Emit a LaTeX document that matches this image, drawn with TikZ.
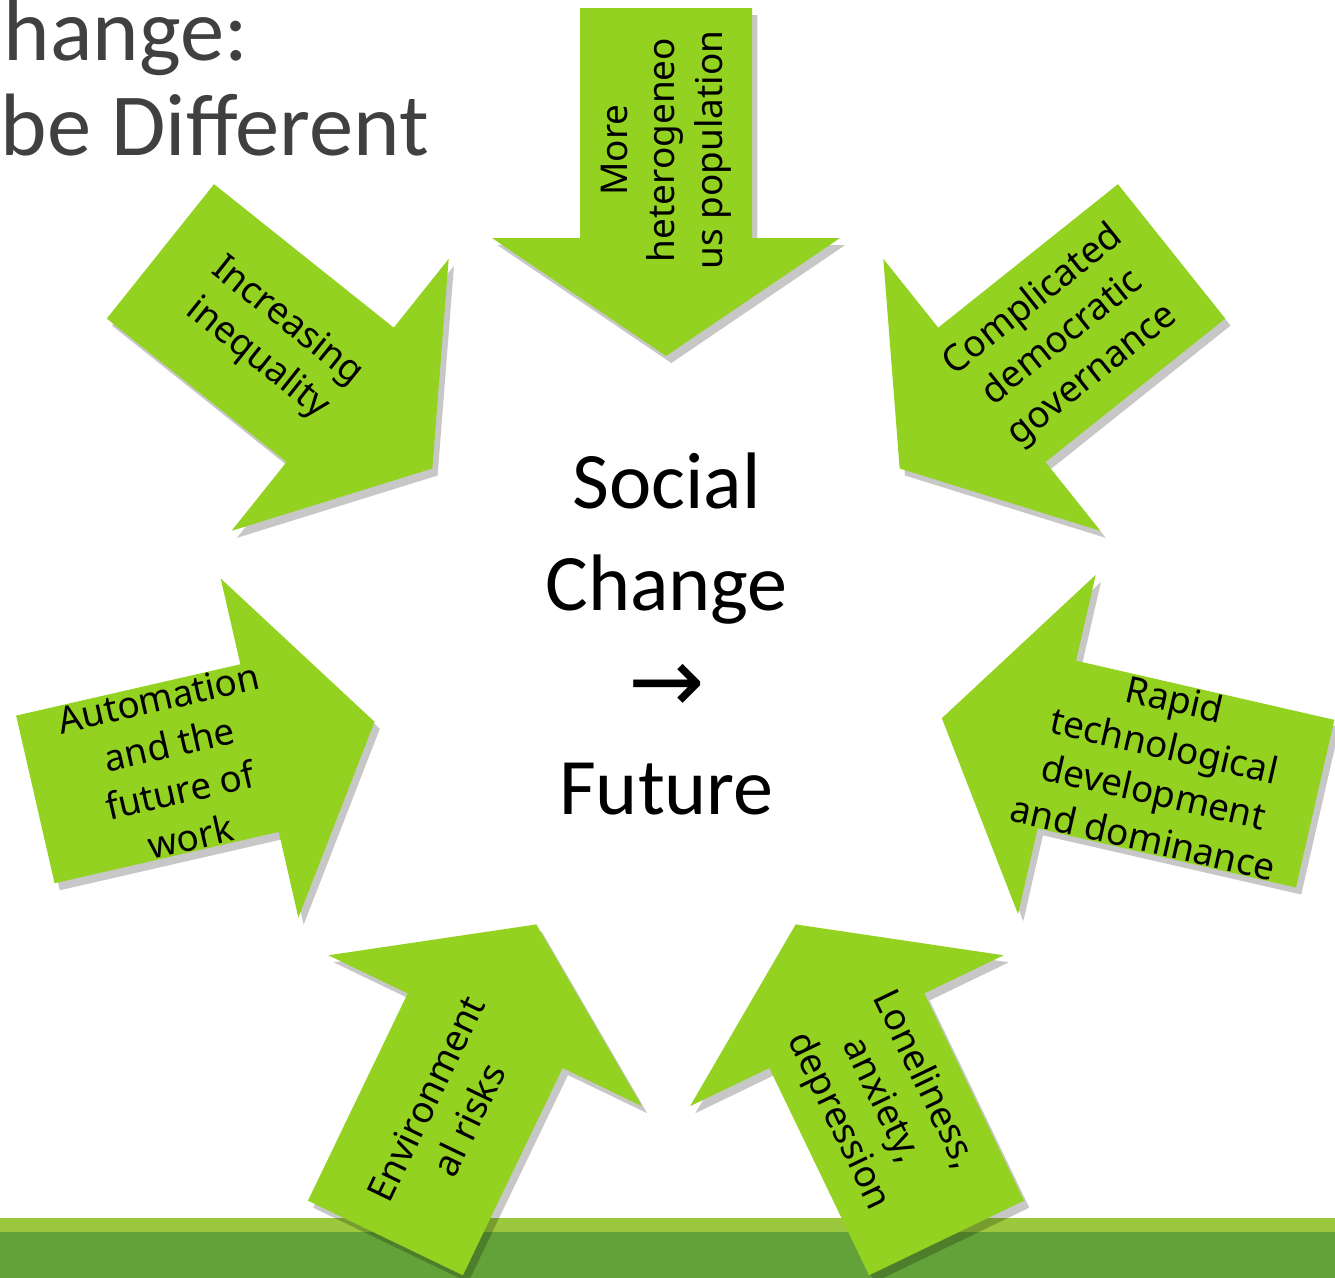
\documentclass[tikz,border=0pt]{standalone}
\usepackage{fontspec}
\setmainfont{Carlito}
\newfontfamily\labelfont{Noto Sans}
\newfontfamily\symbfont{DejaVu Sans}
\usetikzlibrary{calc,shadows}
\definecolor{leafgreen}{RGB}{148,210,34}
\definecolor{bandlight}{RGB}{155,200,60}
\definecolor{banddark}{RGB}{98,162,56}
\definecolor{titlegray}{RGB}{64,64,64}
\tikzset{
  arrowbody/.style={fill=leafgreen, drop shadow={shadow xshift=1.5pt, shadow yshift=-2pt, opacity=0.22, fill=black}},
  bigarrow/.pic={
    \path[arrowbody] (0,0) -- (1.18,1.74) -- (1.18,0.86) -- (#1,0.86) -- (#1,-0.86) -- (1.18,-0.86) -- (1.18,-1.74) -- cycle;
  },
  lbl/.style={font=\labelfont\fontsize{10.5}{13.5}\selectfont, align=center, inner sep=0pt},
  hubtext/.style={font=\fontsize{22.8}{29}\selectfont, align=center},
  heading/.style={font=\fontsize{25.2}{27}\selectfont, text=titlegray, anchor=base west, inner sep=0pt}
}

\begin{document}
\begin{tikzpicture}
    \useasboundingbox (0,0) rectangle (13.35,-12.78);
    % bottom band
    \fill[bandlight] (0,-12.18) rectangle (13.35,-12.32);
    \fill[banddark] (0,-12.32) rectangle (13.35,-12.78);

    \node[heading] (headA) at (0.03,-0.60) {hange:};
    \node[heading] (headB) at (0.0,-1.55) {be Different};

    \coordinate (hub) at (6.66,-6.55);
    \node[hubtext] (core) at (6.665,-6.34) {Social\\Change\\{\symbfont\fontsize{26}{29}\selectfont →}\\Future};

    % arrows pointing in
    \pic[rotate=90] at ($(hub)+(90:2.99)$) {bigarrow=3.48};
    \pic[rotate=38.6] at ($(hub)+(38.6:2.99)$) {bigarrow=3.48};
    \pic[rotate=-12.9] at ($(hub)+(-12.9:2.83)$) {bigarrow=3.83};
    \pic[rotate=-64.3] at ($(hub)+(-64.3:2.99)$) {bigarrow=3.48};
    \pic[rotate=-115.7] at ($(hub)+(-115.7:2.99)$) {bigarrow=3.48};
    \pic[rotate=-167.1] at ($(hub)+(-167.1:2.99)$) {bigarrow=3.48};
    \pic[rotate=141.4] at ($(hub)+(141.4:2.99)$) {bigarrow=3.48};

    \node[lbl, rotate=90] (popl) at ($(hub)+(90:5.05)$) {More\\heterogeneo\\us population};
    \node[lbl, rotate=38.6] (govn) at ($(hub)+(38.6:5.08)$) {Complicated\\democratic\\governance};
    \node[lbl, rotate=-12.9] (tech) at ($(hub)+(-12.9:5.06)$) {Rapid\\technological\\development\\and dominance};
    \node[lbl, rotate=-64.3] (lone) at ($(hub)+(-64.3:4.95)$) {Loneliness,\\anxiety,\\depression};
    \node[lbl, rotate=64.3] (envr) at ($(hub)+(-115.7:5.04)$) {Environment\\al risks};
    \node[lbl, rotate=12.9] (auto) at ($(hub)+(-167.1:5.04)$) {Automation\\and the\\future of\\work};
    \node[lbl, rotate=-38.6] (ineq) at ($(hub)+(141.4:5.04)$) {Increasing\\inequality};
\end{tikzpicture}
\end{document}
